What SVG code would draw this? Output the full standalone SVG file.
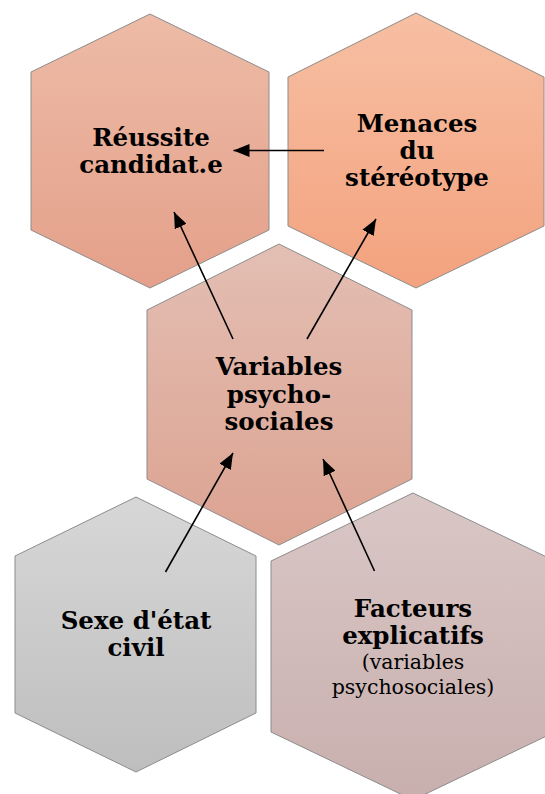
<svg xmlns="http://www.w3.org/2000/svg" width="545" height="794" viewBox="0 0 545 794">
<defs>
<linearGradient id="gR" x1="0" y1="0" x2="0" y2="1"><stop offset="0" stop-color="#EDBBA6"/><stop offset="1" stop-color="#E4A08A"/></linearGradient>
<linearGradient id="gM" x1="0" y1="0" x2="0" y2="1"><stop offset="0" stop-color="#F7BFA3"/><stop offset="1" stop-color="#F3A27E"/></linearGradient>
<linearGradient id="gV" x1="0" y1="0" x2="0" y2="1"><stop offset="0" stop-color="#E3BFB3"/><stop offset="1" stop-color="#DCA291"/></linearGradient>
<linearGradient id="gS" x1="0" y1="0" x2="0" y2="1"><stop offset="0" stop-color="#D7D7D7"/><stop offset="1" stop-color="#BEBEBE"/></linearGradient>
<linearGradient id="gF" x1="0" y1="0" x2="0" y2="1"><stop offset="0" stop-color="#D9C7C5"/><stop offset="1" stop-color="#C8AFAE"/></linearGradient>
<marker id="ah" viewBox="0 0 16 13" refX="16" refY="6.5" markerWidth="16" markerHeight="13" markerUnits="userSpaceOnUse" orient="auto"><path d="M0,0 L16,6.5 L0,13 Z" fill="#000"/></marker>
</defs>
<style>
.hex{stroke:#8C8C8C;stroke-width:1}
.b{font-family:"DejaVu Serif","Liberation Serif",serif;font-weight:bold;font-size:24.5px;fill:#000;text-anchor:middle}
.r{font-family:"DejaVu Serif","Liberation Serif",serif;font-size:20.5px;fill:#000;text-anchor:middle}
.c{stroke:#000;stroke-width:1.6;fill:none;marker-end:url(#ah)}
</style>
<g id="reussite">
<polygon class="hex" fill="url(#gR)" points="150,14 269,72 269,230 150,288 31,230 31,72"/>
<text class="b" x="151" y="146">Réussite</text>
<text class="b" x="151" y="172.5">candidat.e</text>
</g>
<g id="menaces">
<polygon class="hex" fill="url(#gM)" points="416,13 544,77 544,226 416,288 288,226 288,77"/>
<text class="b" x="417" y="132">Menaces</text>
<text class="b" x="417" y="159">du</text>
<text class="b" x="417" y="186">stéréotype</text>
</g>
<g id="variables">
<polygon class="hex" fill="url(#gV)" points="279,244 412,310 412,479 279,545 147,479 147,310"/>
<text class="b" x="279" y="375">Variables</text>
<text class="b" x="279" y="402.5">psycho-</text>
<text class="b" x="279" y="430">sociales</text>
</g>
<g id="sexe">
<polygon class="hex" fill="url(#gS)" points="136,497 256,556 256,713 136,772 15,713 15,556"/>
<text class="b" x="136" y="628.5">Sexe d'état</text>
<text class="b" x="136" y="655.5">civil</text>
</g>
<g id="facteurs">
<polygon class="hex" fill="url(#gF)" points="413,493 555,561 555,732 413,800 271,732 271,561"/>
<text class="b" x="413" y="617">Facteurs</text>
<text class="b" x="413" y="643.5">explicatifs</text>
<text class="r" x="413" y="669">(variables</text>
<text class="r" x="413" y="693.5">psychosociales)</text>
</g>
<g id="connectors">
<line class="c" x1="324" y1="150.5" x2="233.5" y2="150.5"/>
<line class="c" x1="233" y1="339" x2="174" y2="212"/>
<line class="c" x1="307" y1="339" x2="376" y2="219"/>
<line class="c" x1="165.5" y1="572" x2="233" y2="453"/>
<line class="c" x1="374.5" y1="571" x2="323" y2="459"/>
</g>
</svg>
